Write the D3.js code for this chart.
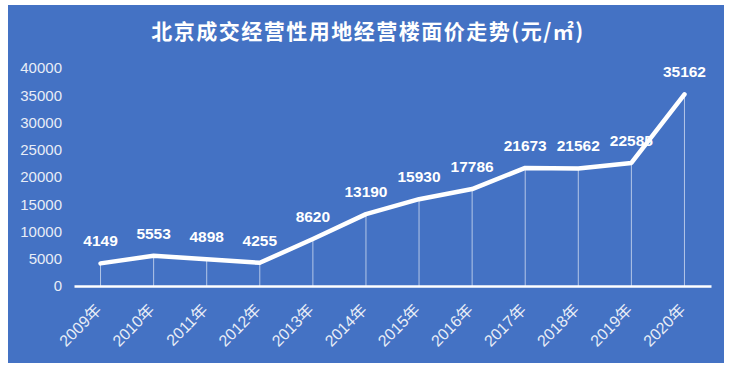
<!DOCTYPE html>
<html>
<head>
<meta charset="utf-8">
<script src="https://cdn.jsdelivr.net/npm/d3@7"></script>
<style>
  body { margin: 0; background: #fff; }
  svg text { font-family: "Liberation Sans", "Noto Sans CJK SC", sans-serif; }
</style>
</head>
<body>
<div id="chart"></div>
<script>
// data
const years = ["2009年", "2010年", "2011年", "2012年", "2013年", "2014年", "2015年", "2016年", "2017年", "2018年", "2019年", "2020年"];
const prices = [4149, 5553, 4898, 4255, 8620, 13190, 15930, 17786, 21673, 21562, 22585, 35162];
const yTicks = [0, 5000, 10000, 15000, 20000, 25000, 30000, 35000, 40000];

const width = 737, height = 370;
const margin = { top: 68, right: 26, bottom: 84, left: 74 };

const svg = d3.select("#chart")
    .append("svg")
    .attr("width", width)
    .attr("height", height);

// blue panel
svg.append("rect")
    .attr("x", 8).attr("y", 5)
    .attr("width", 716).attr("height", 358)
    .attr("fill", "#4472c4");

// title
svg.append("text")
    .attr("x", 368)
    .attr("y", 39)
    .attr("text-anchor", "middle")
    .attr("fill", "#fff")
    .style("font-family", "'Noto Sans CJK SC', sans-serif")
    .style("font-size", "21px")
    .style("font-weight", "bold")
    .style("letter-spacing", "1.5px")
    .text("北京成交经营性用地经营楼面价走势(元/㎡)");

const x = d3.scaleBand()
    .domain(years)
    .range([margin.left, width - margin.right]);

const y = d3.scaleLinear()
    .domain([0, 40000])
    .range([height - margin.bottom, margin.top]);

const cx = d => x(d) + x.bandwidth() / 2;

// y axis labels
const yAxis = svg.append("g")
    .attr("transform", "translate(" + (margin.left - 12) + ",0)")
    .call(d3.axisLeft(y).tickValues(yTicks).tickFormat(d3.format("d")).tickSize(0).tickPadding(0));
yAxis.select(".domain").remove();
yAxis.selectAll("text")
    .attr("fill", "#e8edf7")
    .style("font-size", "15px");

// drop lines
svg.selectAll(".drop")
    .data(prices)
    .enter().append("line")
    .attr("x1", (d, i) => cx(years[i]))
    .attr("x2", (d, i) => cx(years[i]))
    .attr("y1", d => y(d))
    .attr("y2", y(0))
    .attr("stroke", "#fff")
    .attr("stroke-opacity", 0.6)
    .attr("stroke-width", 1);

// x axis
const xAxis = svg.append("g")
    .attr("transform", "translate(0," + y(0) + ")")
    .call(d3.axisBottom(x).tickSize(0).tickPadding(0));
xAxis.select(".domain")
    .attr("stroke", "#fff")
    .attr("stroke-width", 2.5);
xAxis.selectAll("text")
    .attr("fill", "#e8edf7")
    .attr("y", 0)
    .attr("dy", 0)
    .style("font-size", "16px")
    .style("text-anchor", "end")
    .attr("transform", "translate(2,25) rotate(-45)");

// value labels (under the line, as in the original)
svg.selectAll(".label")
    .data(prices)
    .enter().append("text")
    .attr("x", (d, i) => cx(years[i]))
    .attr("y", d => y(d) - 17)
    .attr("text-anchor", "middle")
    .attr("fill", "#fff")
    .style("font-size", "15.5px")
    .style("font-weight", "bold")
    .text(d => d);

// line
const line = d3.line()
    .x((d, i) => cx(years[i]))
    .y(d => y(d));

svg.append("path")
    .datum(prices)
    .attr("d", line)
    .attr("fill", "none")
    .attr("stroke", "#fff")
    .attr("stroke-width", 4.5)
    .attr("stroke-linejoin", "round")
    .attr("stroke-linecap", "round");
</script>
</body>
</html>
